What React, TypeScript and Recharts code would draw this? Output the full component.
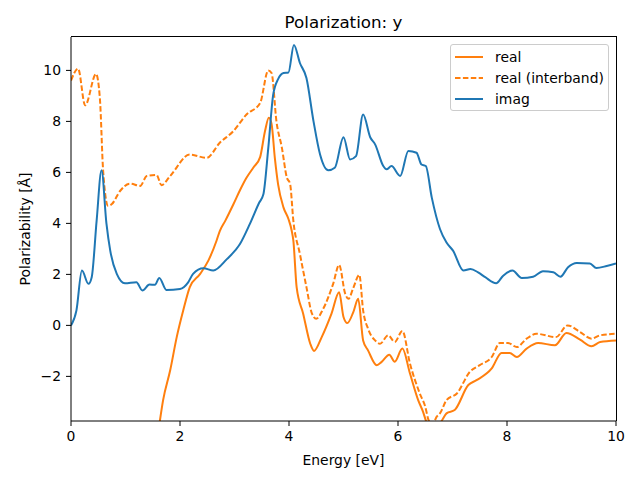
import React from 'react';
import { LineChart, Line, XAxis, YAxis, Legend, Label } from 'recharts';

// energies [eV] and values, one pair of arrays per series
const realE = [1.62, 1.69, 1.82, 1.94, 2.06, 2.18, 2.37, 2.52, 2.67, 2.73, 2.83, 2.98, 3.1, 3.22, 3.35, 3.47, 3.56, 3.63, 3.68, 3.74, 3.8, 3.9, 3.99, 4.05, 4.08, 4.14, 4.26, 4.39, 4.46, 4.6, 4.78, 4.92, 5.0, 5.07, 5.18, 5.27, 5.36, 5.45, 5.61, 5.7, 5.84, 5.94, 6.08, 6.22, 6.37, 6.46, 6.52, 6.65, 6.8, 6.89, 7.04, 7.29, 7.44, 7.72, 7.9, 8.05, 8.18, 8.36, 8.57, 8.88, 9.09, 9.34, 9.55, 9.71, 10];
const realV = [-3.9, -2.93, -1.76, -0.46, 0.59, 1.5, 2.02, 2.54, 3.32, 3.7, 4.1, 4.75, 5.3, 5.79, 6.2, 6.6, 7.62, 8.14, 7.9, 6.57, 5.53, 4.62, 4.17, 3.71, 3.32, 1.5, 0.46, -0.72, -1.0, -0.46, 0.46, 1.3, 0.33, 0.09, 0.52, 1.04, -0.59, -0.98, -1.56, -1.43, -1.15, -1.43, -0.91, -1.89, -2.93, -3.39, -3.78, -4.1, -3.75, -3.45, -3.32, -2.34, -2.15, -1.69, -1.08, -1.08, -1.24, -0.91, -0.69, -0.78, -0.3, -0.56, -0.82, -0.65, -0.59];

const interE = [0, 0.13, 0.26, 0.46, 0.53, 0.59, 0.68, 0.75, 0.9, 1.08, 1.27, 1.39, 1.57, 1.66, 1.82, 2.18, 2.49, 2.73, 2.98, 3.22, 3.47, 3.62, 3.68, 3.77, 3.87, 3.96, 4.02, 4.08, 4.2, 4.32, 4.42, 4.5, 4.63, 4.81, 4.92, 5.03, 5.09, 5.18, 5.29, 5.36, 5.45, 5.58, 5.67, 5.82, 5.94, 6.08, 6.22, 6.4, 6.5, 6.56, 6.63, 6.71, 6.77, 6.89, 7.08, 7.32, 7.5, 7.72, 7.87, 8.02, 8.18, 8.36, 8.54, 8.9, 9.11, 9.34, 9.55, 9.71, 10];
const interV = [9.6, 10.07, 8.63, 9.86, 8.9, 6.05, 4.69, 4.76, 5.27, 5.56, 5.47, 5.86, 5.9, 5.5, 5.86, 6.7, 6.57, 7.16, 7.62, 8.27, 8.72, 10.0, 9.9, 8.0, 6.96, 5.8, 5.55, 4.1, 2.8, 1.5, 0.47, 0.26, 0.66, 1.63, 2.37, 1.25, 1.04, 1.47, 1.98, 0.59, -0.13, -0.59, -0.72, -0.39, -0.65, -0.22, -1.5, -2.67, -3.19, -3.71, -3.9, -3.58, -3.45, -2.93, -2.67, -1.82, -1.56, -1.24, -0.69, -0.69, -0.85, -0.52, -0.33, -0.46, 0.0, -0.26, -0.52, -0.39, -0.33];

const imagE = [0, 0.1, 0.2, 0.32, 0.38, 0.47, 0.56, 0.65, 0.72, 0.84, 0.99, 1.2, 1.31, 1.44, 1.54, 1.62, 1.75, 2.0, 2.15, 2.24, 2.43, 2.61, 2.86, 3.1, 3.28, 3.45, 3.53, 3.62, 3.71, 3.8, 3.9, 3.99, 4.09, 4.2, 4.32, 4.45, 4.57, 4.72, 4.84, 5.0, 5.12, 5.23, 5.36, 5.49, 5.58, 5.73, 5.79, 5.88, 6.04, 6.19, 6.34, 6.43, 6.51, 6.62, 6.77, 6.89, 7.01, 7.2, 7.33, 7.47, 7.6, 7.8, 7.93, 8.1, 8.27, 8.48, 8.66, 8.85, 8.98, 9.12, 9.28, 9.52, 9.64, 9.83, 10];
const imagV = [0, 0.59, 2.15, 1.63, 1.89, 4.1, 6.08, 4.0, 2.93, 2.02, 1.65, 1.69, 1.37, 1.6, 1.59, 1.86, 1.39, 1.43, 1.69, 2.02, 2.24, 2.15, 2.6, 3.19, 3.97, 4.8, 5.14, 6.96, 9.05, 9.66, 9.9, 9.92, 11.0, 10.29, 9.7, 8.0, 6.7, 6.08, 6.18, 7.38, 6.51, 6.64, 8.27, 7.38, 7.1, 6.25, 6.12, 6.25, 5.86, 6.84, 6.77, 6.31, 6.25, 5.01, 3.78, 3.25, 2.93, 2.15, 2.21, 2.08, 1.89, 1.65, 1.95, 2.15, 1.86, 1.91, 2.12, 2.08, 1.91, 2.28, 2.45, 2.43, 2.25, 2.33, 2.43];

const xTicks = [0, 2, 4, 6, 8, 10];
const yTicks = [-2, 0, 2, 4, 6, 8, 10];

const toPoints = (e: number[], v: number[]) => e.map((x, i) => ({ e: x, v: v[i] }));

const realData = toPoints(realE, realV);
const interData = toPoints(interE, interV);
const imagData = toPoints(imagE, imagV);

const ORANGE = '#ff7f0e';
const BLUE = '#1f77b4';
const FONT = '"DejaVu Sans", sans-serif';

const legendItems = [
  { name: 'real', color: ORANGE, dash: undefined },
  { name: 'real (interband)', color: ORANGE, dash: '5.5 2.4' },
  { name: 'imag', color: BLUE, dash: undefined },
];

const LegendBox = () => (
  <div
    style={{
      width: 159,
      height: 67,
      border: '1px solid #cccccc',
      borderRadius: 3,
      background: 'rgba(255,255,255,0.8)',
      boxSizing: 'border-box',
      paddingTop: 1,
      whiteSpace: 'nowrap',
      textAlign: 'left',
    }}
  >
    {legendItems.map((it) => (
      <div key={it.name} style={{ display: 'flex', alignItems: 'center', height: 21 }}>
        <svg width={40} height={10} style={{ marginLeft: 4, flex: 'none' }}>
          <line x1={0} y1={5} x2={28} y2={5} stroke={it.color} strokeWidth={2} strokeDasharray={it.dash} />
        </svg>
        <span style={{ fontSize: 13.9, lineHeight: '16px', color: '#000', fontFamily: FONT }}>{it.name}</span>
      </div>
    ))}
  </div>
);

const fmt = (v: number) => String(v).replace('-', '\u2212');

export default function App() {
  return (
    <div style={{ position: 'absolute', left: 0, top: 0, width: 640, height: 480, background: '#fff', fontFamily: FONT }}>
      <div
        style={{
          position: 'absolute',
          left: 71,
          top: 12,
          width: 545,
          textAlign: 'center',
          fontSize: 16.7,
          lineHeight: '20px',
          color: '#000',
        }}
      >
        Polarization: y
      </div>
      <LineChart width={640} height={480} margin={{ top: 37, right: 24, bottom: 0, left: 0 }}>
        <XAxis
          dataKey="e"
          type="number"
          domain={[0, 10]}
          ticks={xTicks}
          allowDataOverflow
          height={59}
          tickSize={5}
          tickMargin={5}
          stroke="#000"
          tick={{ fill: '#000', fontSize: 13.9, fontFamily: FONT }}
        >
          <Label value="Energy [eV]" position="insideBottom" offset={15} fill="#000" fontSize={13.9} fontFamily={FONT} />
        </XAxis>
        <YAxis
          type="number"
          domain={[-3.75, 11.31]}
          ticks={yTicks}
          allowDataOverflow
          width={71}
          tickSize={5}
          tickMargin={5}
          tickFormatter={fmt}
          stroke="#000"
          tick={{ fill: '#000', fontSize: 13.9, fontFamily: FONT }}
        >
          <Label
            content={({ viewBox }: any) => (
              <text
                x={25}
                y={viewBox.y + viewBox.height / 2}
                transform={`rotate(-90 25 ${viewBox.y + viewBox.height / 2})`}
                textAnchor="middle"
                dominantBaseline="central"
                fill="#000"
                fontSize={13.9}
                fontFamily={FONT}
              >
                Polarizability [Å]
              </text>
            )}
          />
        </YAxis>
        <Legend
          layout="vertical"
          align="center"
          verticalAlign="middle"
          content={() => <LegendBox />}
          wrapperStyle={{ top: 44, left: 450, width: 159, height: 67 }}
        />
        <Line data={realData} dataKey="v" name="real" type="monotone" stroke={ORANGE} strokeWidth={2} dot={false} isAnimationActive={false} />
        <Line data={interData} dataKey="v" name="real (interband)" type="monotone" stroke={ORANGE} strokeWidth={2} strokeDasharray="5.5 2.4" dot={false} isAnimationActive={false} />
        <Line data={imagData} dataKey="v" name="imag" type="monotone" stroke={BLUE} strokeWidth={2} dot={false} isAnimationActive={false} />
      </LineChart>
      {/* top and right spines of the axes frame */}
      <div
        style={{
          position: 'absolute',
          left: 71,
          top: 36,
          width: 546,
          height: 385,
          boxSizing: 'border-box',
          borderTop: '1px solid #000',
          borderRight: '1px solid #000',
          pointerEvents: 'none',
        }}
      />
    </div>
  );
}
